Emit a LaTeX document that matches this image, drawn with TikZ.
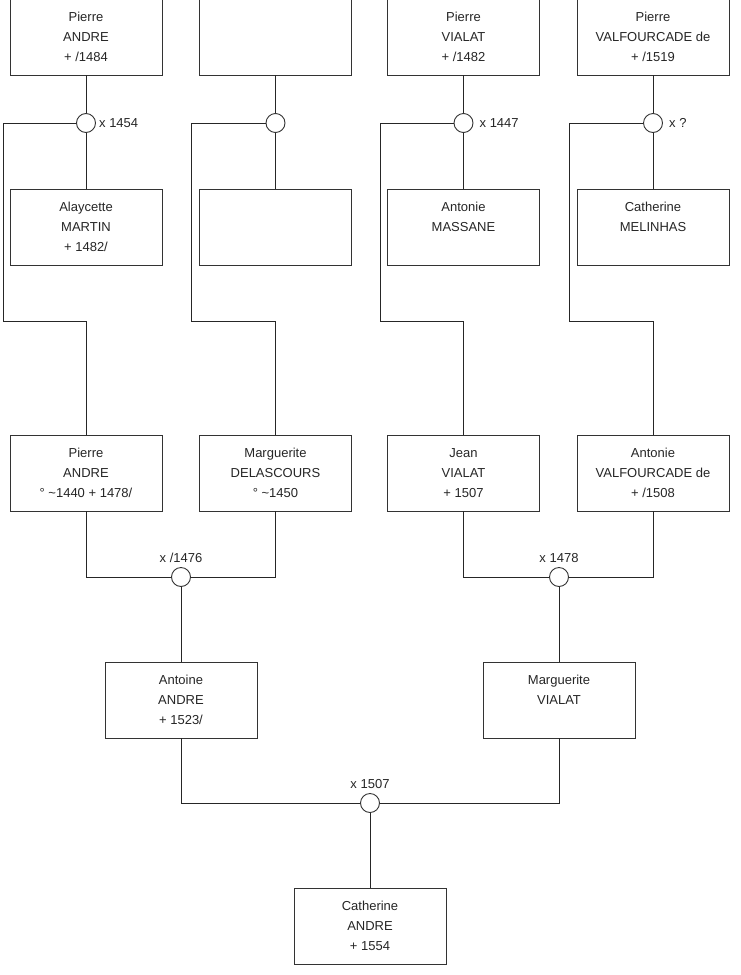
\documentclass[tikz,border=0pt]{standalone}
\usepackage{fontspec}
\setmainfont{Liberation Sans}
\usepackage{tikz}
\usetikzlibrary{calc}

\begin{document}
\begin{tikzpicture}[x=1pt, y=1pt,
    person/.style={draw=black!80, line width=0.9pt, fill=white, minimum width=152pt,
        minimum height=76pt, align=center, inner sep=0pt, text=black!85,
        font=\fontsize{13}{20}\selectfont},
    union/.style={circle, draw=black!80, line width=0.9pt, fill=white, minimum size=19pt, inner sep=0pt},
    date/.style={text=black!85, font=\fontsize{13}{15}\selectfont, inner sep=1pt},
    link/.style={line width=0.9pt, black!85}]
        \useasboundingbox (0,0) rectangle (740,-975);

        % great-grandparents
        \node[person] (p1) at (86,-37) {Pierre\\ANDRE\\+ /1484};
        \node[person] (p2) at (275.5,-37) {};
        \node[person] (p3) at (463.5,-37) {Pierre\\VIALAT\\+ /1482};
        \node[person] (p4) at (653,-37) {Pierre\\VALFOURCADE de\\+ /1519};

        \node[person] (w1) at (86,-227) {Alaycette\\MARTIN\\+ 1482/};
        \node[person] (w2) at (275.5,-227) {};
        \node[person] (w3) at (463.5,-227) {Antonie\\MASSANE\\\mbox{}};
        \node[person] (w4) at (653,-227) {Catherine\\MELINHAS\\\mbox{}};

        \node[union] (m1) at (86,-123) {};
        \node[union] (m2) at (275.5,-123) {};
        \node[union] (m3) at (463.5,-123) {};
        \node[union] (m4) at (653,-123) {};
        \node[date, anchor=west] (d1) at ($(m1.east)+(2,0)$) {x 1454};
        \node[date, anchor=west] (d3) at ($(m3.east)+(5,0)$) {x 1447};
        \node[date, anchor=west] (d4) at ($(m4.east)+(5,0)$) {x ?};

        % grandparents
        \node[person] (c1) at (86,-473) {Pierre\\ANDRE\\° \textasciitilde1440 + 1478/};
        \node[person] (c2) at (275.5,-473) {Marguerite\\DELASCOURS\\° \textasciitilde1450};
        \node[person] (c3) at (463.5,-473) {Jean\\VIALAT\\+ 1507};
        \node[person] (c4) at (653,-473) {Antonie\\VALFOURCADE de\\+ /1508};

        \node[union] (mm1) at (181,-577) {};
        \node[union] (mm2) at (559,-577) {};
        \node[date, anchor=south] (dd1) at ($(mm1.north)+(0,3)$) {x /1476};
        \node[date, anchor=south] (dd2) at ($(mm2.north)+(0,3)$) {x 1478};

        % parents
        \node[person] (g1) at (181,-700) {Antoine\\ANDRE\\+ 1523/};
        \node[person] (g2) at (559,-700) {Marguerite\\VIALAT\\\mbox{}};

        \node[union] (mm3) at (370,-803) {};
        \node[date, anchor=south] (dd3) at ($(mm3.north)+(0,3)$) {x 1507};

        \node[person] (k) at (370,-926) {Catherine\\ANDRE\\+ 1554};

        % turning points of the side lines
        \coordinate (e1) at (3,-321);
        \coordinate (e2) at (191,-321);
        \coordinate (e3) at (380,-321);
        \coordinate (e4) at (569,-321);

        % links
        \foreach \i in {1,2,3,4} {
            \draw[link] (p\i) -- (m\i);
            \draw[link] (m\i) -- (w\i);
            \draw[link] (m\i.west) -| (e\i) -| (c\i.north);
        }
        \draw[link] (c1.south) |- (mm1.west);
        \draw[link] (c2.south) |- (mm1.east);
        \draw[link] (c3.south) |- (mm2.west);
        \draw[link] (c4.south) |- (mm2.east);
        \draw[link] (mm1) -- (g1);
        \draw[link] (mm2) -- (g2);
        \draw[link] (g1.south) |- (mm3.west);
        \draw[link] (g2.south) |- (mm3.east);
        \draw[link] (mm3) -- (k);
    \end{tikzpicture}
\end{document}
